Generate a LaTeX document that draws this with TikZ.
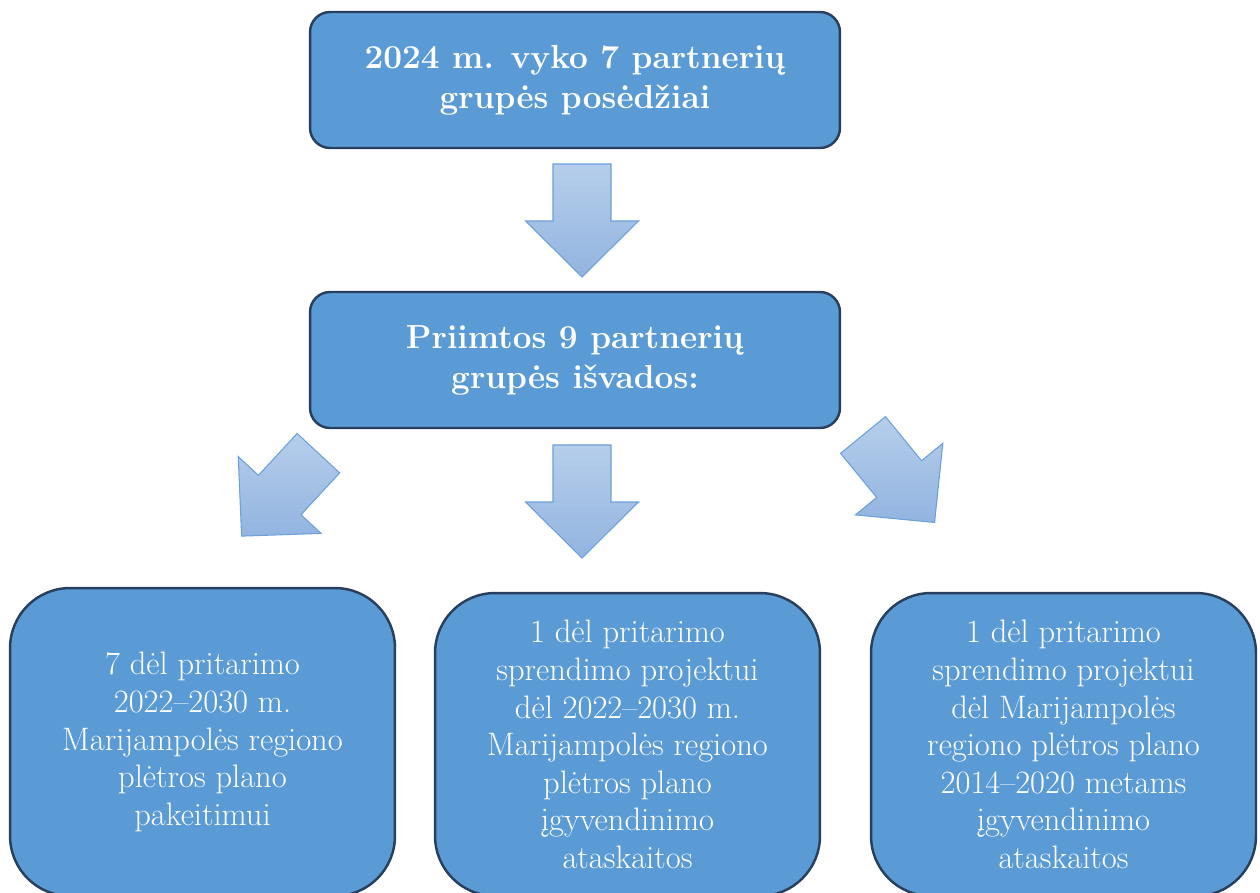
\documentclass[tikz,border=0pt]{standalone}
\usepackage{fontspec}
\definecolor{boxblue}{RGB}{91,155,213}
\definecolor{boxedge}{RGB}{40,64,94}
\definecolor{arrowtop}{RGB}{182,206,235}
\definecolor{arrowbot}{RGB}{146,180,224}
\definecolor{arrowedge}{RGB}{108,160,218}
\tikzset{
  headbox/.style={draw=boxedge, line width=1.4pt, fill=boxblue, rounded corners=0.4cm,
    minimum width=10.6cm, minimum height=2.72cm, align=center, text=white,
    font=\fontsize{19}{22.7}\selectfont\bfseries},
  leafbox/.style={draw=boxedge, line width=1.4pt, fill=boxblue, rounded corners=1.2cm,
    minimum width=7.7cm, align=center, text=white,
    font=\fontsize{18.5}{21.4}\selectfont},
  blockarrow/.pic={
    \draw[draw=arrowedge, line width=0.6pt, top color=arrowtop, bottom color=arrowbot]
      (-29,0) -- (29,0) -- (29,57) -- (56.5,57) -- (0,113) -- (-56.5,57) -- (-29,57) -- cycle;}
}

\begin{document}
\begin{tikzpicture}[x=0.02cm, y=-0.02cm]
      \useasboundingbox (0,0) rectangle (1260,892);
      \node[headbox] (meetings) at (575,80) {2024 m. vyko 7 partnerių\\grupės posėdžiai};
      \node[headbox] (findings) at (575,360) {Priimtos 9 partnerių\\grupės išvados:};
      \node[leafbox, minimum height=6.16cm] (leftleaf) at (202.5,742)
        {7 dėl pritarimo\\2022–2030 m.\\Marijampolės regiono\\plėtros plano\\pakeitimui};
      \node[leafbox, minimum height=6.06cm] (midleaf) at (627.5,744.5)
        {1 dėl pritarimo\\sprendimo projektui\\dėl 2022–2030 m.\\Marijampolės regiono\\plėtros plano\\įgyvendinimo\\ataskaitos};
      \node[leafbox, minimum height=6.06cm] (rightleaf) at (1063.5,744.5)
        {1 dėl pritarimo\\sprendimo projektui\\dėl Marijampolės\\regiono plėtros plano\\2014–2020 metams\\įgyvendinimo\\ataskaitos};
      % block arrows
      \pic at (582,164) {blockarrow};
      \pic at (582,445) {blockarrow};
      \pic[rotate=-42.8] at (318.4,453.2) {blockarrow};
      \pic[rotate=39.3] at (863,435) {blockarrow};
    \end{tikzpicture}
\end{document}
